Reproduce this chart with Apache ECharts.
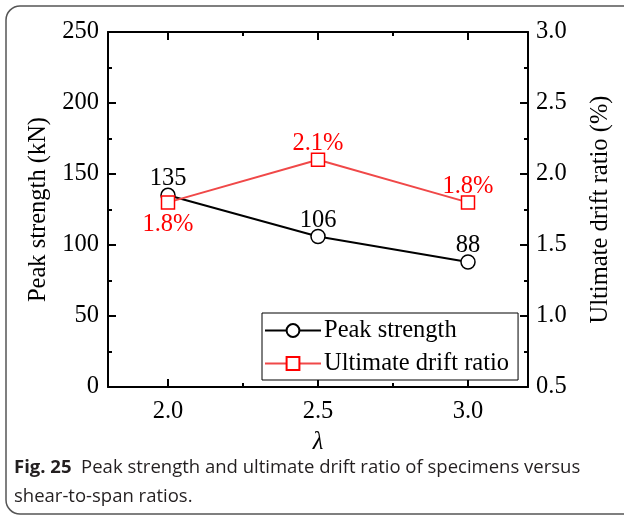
<!DOCTYPE html>
<html>
<head>
<meta charset="utf-8">
<script src="https://cdn.jsdelivr.net/npm/echarts@6/dist/echarts.min.js"></script>
<style>
  html, body { margin: 0; padding: 0; background: #fff; }
  #chart { width: 624px; height: 520px; }
</style>
</head>
<body>
<div id="chart"></div>
<script>
// Shear-to-span ratio (λ) and measured responses
const lambdaValues = [2.0, 2.5, 3.0];
const peakStrength = [135, 106, 88];          // kN
const ultimateDrift = [1.8, 2.1, 1.8];        // %
const xMajorTicks = [2.0, 2.5, 3.0];
const xMinorTicks = [2.25, 2.75];

const serif = '"Liberation Serif", "Times New Roman", Times, serif';
const fs = 24.5;
const chart = echarts.init(document.getElementById('chart'));

const pairs = (xs, ys) => xs.map((x, i) => [x, ys[i]]);

const xBase = {
  type: 'value', min: 1.8, max: 3.2, interval: 0.05,
  splitLine: { show: false }
};

chart.setOption({
  animation: false,
  textStyle: { fontFamily: serif },
  grid: { left: 108, right: 96, top: 32, bottom: 133 },
  graphic: [
    {
      type: 'rect', silent: true, z: -1,
      shape: { x: 6, y: 6, width: 660, height: 508, r: 14 },
      style: { fill: 'none', stroke: '#555', lineWidth: 1.5 }
    },
    {
      type: 'text', left: 14, top: 453,
      style: {
        text: '{b|Fig. 25}  Peak strength and ultimate drift ratio of specimens versus\nshear-to-span ratios.',
        font: '18.5px "Open Sans"', fill: '#231f20', lineHeight: 29,
        rich: { b: { fontWeight: 'bold', fontFamily: 'Open Sans', fontSize: 18.5, fill: '#231f20' } }
      }
    }
  ],
  legend: {
    left: 262, top: 313, orient: 'vertical',
    itemWidth: 56, itemHeight: 16, itemGap: 8,
    padding: [5, 9, 4, 2],
    borderColor: '#000', borderWidth: 1, backgroundColor: '#fff',
    textStyle: { fontFamily: serif, fontSize: fs, color: '#000', padding: [0, 0, 0, -2] },
    data: ['Peak strength', 'Ultimate drift ratio']
  },
  xAxis: [
    Object.assign({}, xBase, {
      position: 'bottom',
      name: 'λ', nameLocation: 'middle', nameGap: 43,
      nameTextStyle: { fontFamily: serif, fontSize: fs, fontStyle: 'italic', color: '#000' },
      axisLine: { lineStyle: { color: '#000', width: 2 } },
      axisTick: { inside: true, length: 8, customValues: xMajorTicks, lineStyle: { color: '#000', width: 2 } },
      axisLabel: { customValues: xMajorTicks, margin: 12, fontFamily: serif, fontSize: fs, color: '#000',
                   formatter: v => v.toFixed(1) }
    }),
    Object.assign({}, xBase, {
      position: 'bottom',
      axisLine: { show: false },
      axisTick: { inside: true, length: 4, customValues: xMinorTicks, lineStyle: { color: '#000', width: 2 } },
      axisLabel: { show: false }
    }),
    Object.assign({}, xBase, {
      position: 'top',
      axisLine: { lineStyle: { color: '#000', width: 2 } },
      axisTick: { inside: true, length: 8, customValues: xMajorTicks, lineStyle: { color: '#000', width: 2 } },
      axisLabel: { show: false }
    }),
    Object.assign({}, xBase, {
      position: 'top',
      axisLine: { show: false },
      axisTick: { inside: true, length: 4, customValues: xMinorTicks, lineStyle: { color: '#000', width: 2 } },
      axisLabel: { show: false }
    })
  ],
  yAxis: [
    {
      type: 'value', position: 'left', min: 0, max: 250, interval: 50,
      name: 'Peak strength (kN)', nameLocation: 'middle', nameGap: 56,
      nameTextStyle: { fontFamily: serif, fontSize: fs, color: '#000' },
      axisLine: { show: true, lineStyle: { color: '#000', width: 2 } },
      axisTick: { show: true, inside: true, length: 8, lineStyle: { color: '#000', width: 2 } },
      minorTick: { show: true, splitNumber: 2, length: 4, lineStyle: { color: '#000', width: 2 } },
      axisLabel: { margin: 9, fontFamily: serif, fontSize: fs, color: '#000' },
      splitLine: { show: false }
    },
    {
      type: 'value', position: 'right', min: 0.5, max: 3.0, interval: 0.5,
      name: 'Ultimate drift ratio (%)', nameLocation: 'middle', nameGap: 60, nameRotate: 90,
      nameTextStyle: { fontFamily: serif, fontSize: fs, color: '#000' },
      axisLine: { show: true, lineStyle: { color: '#000', width: 2 } },
      axisTick: { show: true, inside: true, length: 8, lineStyle: { color: '#000', width: 2 } },
      minorTick: { show: true, splitNumber: 2, length: 4, lineStyle: { color: '#000', width: 2 } },
      axisLabel: { margin: 8, fontFamily: serif, fontSize: fs, color: '#000',
                   formatter: v => v.toFixed(1) },
      splitLine: { show: false }
    }
  ],
  series: [
    {
      name: 'Peak strength', type: 'line', xAxisIndex: 0, yAxisIndex: 0,
      data: pairs(lambdaValues, peakStrength),
      symbol: 'circle', symbolSize: 14,
      lineStyle: { color: '#000', width: 2 },
      itemStyle: { color: '#fff', borderColor: '#000', borderWidth: 1.5 },
      label: { show: true, position: 'top', distance: 0, offset: [0, 4],
               fontFamily: serif, fontSize: fs, color: '#000' },
      z: 3
    },
    {
      name: 'Ultimate drift ratio', type: 'line', xAxisIndex: 0, yAxisIndex: 1,
      data: pairs(lambdaValues, ultimateDrift).map((d, i) => ({
        value: d,
        label: i === 0
          ? { position: 'bottom', distance: 2, offset: [0, 0] }
          : { position: 'top', distance: 0, offset: [0, 4] }
      })),
      symbol: 'rect', symbolSize: 13,
      lineStyle: { color: '#f04848', width: 2 },
      itemStyle: { color: '#fff', borderColor: '#ff0000', borderWidth: 1.5 },
      label: { show: true, fontFamily: serif, fontSize: fs, color: '#ff0000',
               formatter: p => p.value[1].toFixed(1) + '%' },
      z: 4
    }
  ]
});
</script>
</body>
</html>
